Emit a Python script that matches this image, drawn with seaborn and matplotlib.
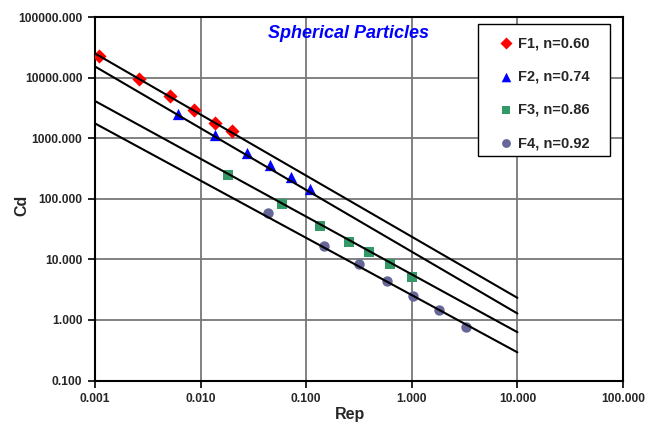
import numpy as np
import pandas as pd
import matplotlib
matplotlib.use("Agg")
import matplotlib.pyplot as plt
import seaborn as sns
from matplotlib.patches import Rectangle
from matplotlib.ticker import FixedLocator, FuncFormatter, NullLocator

# Measured drag coefficients for each fluid
f1_re = [0.0011, 0.00262, 0.00512, 0.00869, 0.0137, 0.0200]
f1_cd = [22800, 9480, 5010, 2900, 1815, 1315]

f2_re = [0.00606, 0.0138, 0.0275, 0.0451, 0.0716, 0.109]
f2_cd = [2490, 1117, 569, 365, 228, 146]

f3_re = [0.0182, 0.0585, 0.134, 0.257, 0.392, 0.628, 1.0]
f3_cd = [249, 81, 36, 19.5, 13.2, 8.4, 5.1]

f4_re = [0.0431, 0.149, 0.313, 0.58, 1.03, 1.82, 3.28]
f4_cd = [59, 16.7, 8.4, 4.35, 2.48, 1.44, 0.76]

# Fitted creeping-flow lines (Cd at Rep = 0.001 and Rep = 10)
fit_re = [0.001, 10.0]
fit_cd = {
    "F1": [25300, 2.32],
    "F2": [15400, 1.28],
    "F3": [4140, 0.628],
    "F4": [1766, 0.292],
}

labels = ["F1, n=0.60", "F2, n=0.74", "F3, n=0.86", "F4, n=0.92"]
colors = ["#FF0000", "#0000FF", "#339966", "#666699"]
markers = ["D", "^", "s", "o"]
sizes = [52, 66, 56, 56]

x_ticks = [0.001, 0.01, 0.1, 1, 10, 100]
y_ticks = [0.1, 1, 10, 100, 1000, 10000, 100000]

sns.set_theme(style="white")
plt.rcParams["font.family"] = ["Liberation Sans", "DejaVu Sans"]

W, H = 664, 433
fig, ax = plt.subplots(figsize=(W / 100, H / 100), dpi=100)
fig.subplots_adjust(left=95 / W, right=623 / W, top=1 - 17.3 / H, bottom=1 - 380.5 / H)

ax.set_xscale("log")
ax.set_yscale("log")

series = [(f1_re, f1_cd), (f2_re, f2_cd), (f3_re, f3_cd), (f4_re, f4_cd)]
for (re, cd), lab, col, mk, sz in zip(series, labels, colors, markers, sizes):
    df = pd.DataFrame({"Rep": re, "Cd": cd})
    sns.scatterplot(data=df, x="Rep", y="Cd", ax=ax, marker=mk, s=sz, color=col,
                    edgecolor=col, linewidth=0, label=lab, zorder=3)

for key, vals in fit_cd.items():
    df = pd.DataFrame({"Rep": fit_re, "Cd": vals})
    sns.lineplot(data=df, x="Rep", y="Cd", ax=ax, color="black", linewidth=1.5,
                 legend=False, zorder=4)

ax.set_xlim(0.001, 100)
ax.set_ylim(0.1, 100000)

ax.xaxis.set_major_locator(FixedLocator(x_ticks))
ax.yaxis.set_major_locator(FixedLocator(y_ticks))
ax.xaxis.set_minor_locator(NullLocator())
ax.yaxis.set_minor_locator(NullLocator())
fmt = FuncFormatter(lambda v, p: f"{v:.3f}")
ax.xaxis.set_major_formatter(fmt)
ax.yaxis.set_major_formatter(fmt)

ax.grid(True, which="major", color="#777777", linewidth=1.3, zorder=0)
ax.set_axisbelow(True)

for side in ["left", "bottom", "top", "right"]:
    ax.spines[side].set_visible(True)
    ax.spines[side].set_color("black")
    ax.spines[side].set_linewidth(1.5)

ax.tick_params(axis="both", which="major", direction="out", length=5, width=1.2,
               color="black", labelsize=8.7, pad=4, bottom=True, left=True)
for lbl in ax.get_xticklabels() + ax.get_yticklabels():
    lbl.set_fontweight("bold")

ax.set_xlabel("Rep", fontsize=11.5, fontweight="bold")
ax.set_ylabel("Cd", fontsize=11.5, fontweight="bold")
ax.xaxis.set_label_coords(350 / W, 1 - 414 / H, transform=fig.transFigure)
ax.yaxis.set_label_coords(22 / W, 1 - 205 / H, transform=fig.transFigure)
ax.xaxis.label.set_va("center")
ax.yaxis.label.set_va("center")

fig.text(349 / W, 1 - 34 / H, "Spherical Particles", color="#0000FF",
         fontsize=13, fontweight="bold", fontstyle="italic", ha="center", va="center")

# Legend box drawn as its own frame, entries placed inside
frame = Rectangle((478 / W, 1 - 156 / H), 132 / W, 132 / H,
                  transform=fig.transFigure, facecolor="white",
                  edgecolor="black", linewidth=1.0, zorder=5)
ax.add_patch(frame)
frame.set_clip_on(False)
leg = ax.legend(loc="upper left", bbox_to_anchor=(500 / W, 1 - 36 / H),
                bbox_transform=fig.transFigure, frameon=False,
                prop={"weight": "bold", "size": 10.5},
                labelspacing=1.33, handlelength=0.8, handletextpad=0.4,
                borderpad=0, borderaxespad=0, markerscale=0.85)
leg.set_zorder(6)

fig.savefig("out.png", dpi=100, facecolor="white")
